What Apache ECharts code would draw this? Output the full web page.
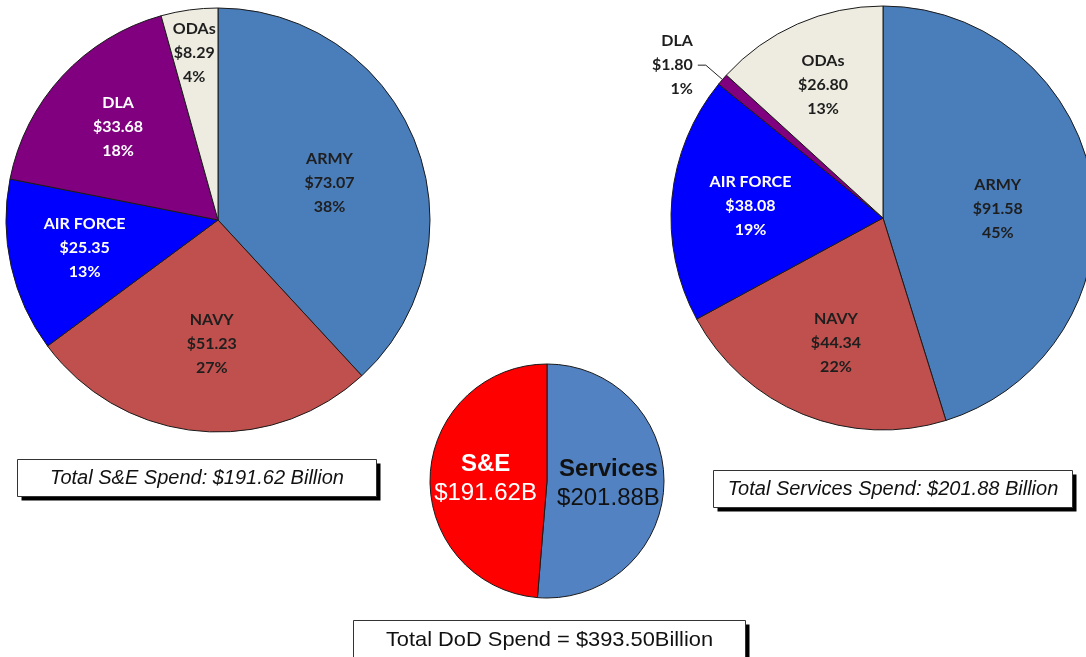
<!doctype html>
<html lang="en">
<head>
	<meta charset="utf-8">
	<title>DoD Spend: S&amp;E and Services</title>
	<script src="https://cdn.jsdelivr.net/npm/echarts@6/dist/echarts.min.js"></script>
	<style>
		html, body { margin: 0; padding: 0; background: #fff; }
		#chart { width: 1086px; height: 657px; }
	</style>
</head>
<body>
	<div id="chart"></div>
	<script>
		// S&E spend by component, $ billion
		var seNames = ['ARMY', 'NAVY', 'AIR FORCE', 'DLA', 'ODAs'];
		var seValues = [73.07, 51.23, 25.35, 33.68, 8.29];

		// Services spend by component, $ billion
		var svcNames = ['ARMY', 'NAVY', 'AIR FORCE', 'DLA', 'ODAs'];
		var svcValues = [91.58, 44.34, 38.08, 1.80, 26.80];

		// whole DoD split
		var totalNames = ['Services', 'S&E'];
		var totalValues = [201.88, 191.62];

		var seBoxText = 'Total S&E Spend: $191.62 Billion';
		var svcBoxText = 'Total Services Spend: $201.88 Billion';
		var totalBoxText = 'Total DoD Spend = $393.50Billion';

		// styling
		var colors = {
			'ARMY': '#4a7ebb',
			'NAVY': '#c0504d',
			'AIR FORCE': '#0000ff',
			'DLA': '#800080',
			'ODAs': '#eeece1',
			'Services': '#5282c2',
			'S&E': '#ff0000'
		};
		var whiteText = ['AIR FORCE', 'DLA'];
		// nudges of the inner labels (Excel does not put them all at r/2)
		var seLabelShift = [[10, 3], [4, 15], [-27, 4], [-20, -19], [-9, -59]];
		var svcLabelShift = [[7, 7], [-6, 24], [-24, -2], [0, 0], [-16, -33]];

		function componentData(names, values, outsideName) {
			var out = [];
			for (let i = 0; i < names.length; i++) {
				var item = {
					name: names[i],
					value: values[i],
					itemStyle: { color: colors[names[i]] },
					label: { color: whiteText.indexOf(names[i]) >= 0 ? '#fff' : '#1e1e1e' }
				};
				if (names[i] == outsideName) {
					item.label = { position: 'outside', color: '#1e1e1e' };
					item.labelLine = { show: true, length: 22, length2: 8, lineStyle: { color: '#222', width: 1 } };
				}
				out.push(item);
			}
			return out;
		}

		function componentPie(center, names, values, shift, outsideName) {
			return {
				type: 'pie',
				center: center,
				radius: 212,
				startAngle: 90,
				clockwise: true,
				percentPrecision: 0,
				silent: true,
				data: componentData(names, values, outsideName),
				itemStyle: { borderColor: '#1a1a1a', borderWidth: 1 },
				label: {
					position: 'inside',
					fontFamily: 'Lato',
					fontWeight: 'bold',
					fontSize: 16,
					lineHeight: 24,
					formatter: function (p) {
						return p.name + '\n$' + p.value.toFixed(2) + '\n' + p.percent + '%';
					}
				},
				labelLine: { show: false },
				labelLayout: function (p) {
					var s = shift[p.dataIndex];
					return { dx: s[0], dy: s[1] };
				}
			};
		}

		// framed text box with a hard black drop shadow
		function makeBox(x, y, w, h, text, font, textY, stretch) {
			return {
				type: 'group',
				left: x,
				top: y,
				children: [
					{
						type: 'rect',
						shape: { x: 4, y: 4, width: w, height: h },
						style: { fill: '#000' }
					},
					{
						type: 'rect',
						shape: { x: 0, y: 0, width: w, height: h },
						style: { fill: '#fff', stroke: '#333', lineWidth: 1 }
					},
					{
						type: 'text',
						x: w / 2,
						y: textY,
						scaleX: stretch,
						style: {
							text: text, font: font, fill: '#111',
							align: 'center', verticalAlign: 'middle'
						}
					}
				]
			};
		}

		var option = {
			animation: false,
			series: [
				componentPie([218, 220], seNames, seValues, seLabelShift, null),
				componentPie([883, 218], svcNames, svcValues, svcLabelShift, 'DLA'),
				{
					type: 'pie',
					center: [547, 481],
					radius: 117,
					startAngle: 90,
					clockwise: true,
					silent: true,
					data: totalNames.map(function (n, i) {
						return {
							name: n,
							value: totalValues[i],
							itemStyle: { color: colors[n] },
							label: { color: n == 'S&E' ? '#fff' : '#111' }
						};
					}),
					itemStyle: { borderColor: '#1a1a1a', borderWidth: 1 },
					label: {
						position: 'inside',
						fontFamily: 'Liberation Sans, Arial, sans-serif',
						fontSize: 24,
						lineHeight: 29,
						formatter: function (p) {
							return '{b|' + p.name + '}\n$' + p.value.toFixed(2) + 'B';
						},
						rich: {
							b: { fontWeight: 'bold', fontSize: 24, lineHeight: 29, fontFamily: 'Liberation Sans, Arial, sans-serif' }
						}
					},
					labelLine: { show: false }
				}
			],
			graphic: [
				makeBox(17, 459, 359, 37, seBoxText, 'italic 20px "Liberation Sans", Arial, sans-serif', 19, 1),
				makeBox(713, 470, 359, 37, svcBoxText, 'italic 20px "Liberation Sans", Arial, sans-serif', 19, 1),
				makeBox(353, 620, 392, 50, totalBoxText, '21px "Liberation Sans", Arial, sans-serif', 20, 1.04)
			]
		};

		var chart = echarts.init(document.getElementById('chart'));
		chart.setOption(option);
	</script>
</body>
</html>
